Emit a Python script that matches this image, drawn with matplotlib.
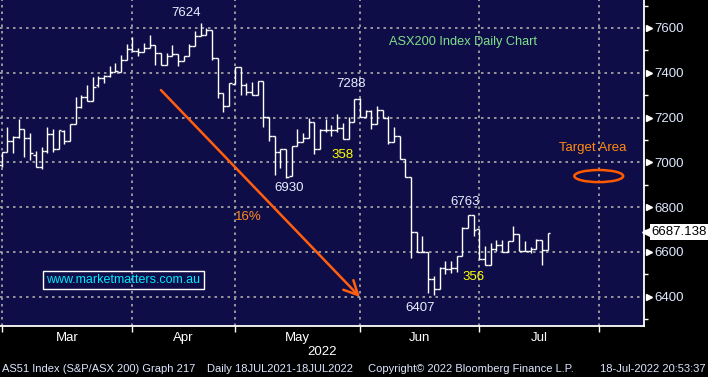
import matplotlib
matplotlib.use("Agg")
import matplotlib.pyplot as plt
import numpy as np
from matplotlib.collections import LineCollection
from matplotlib.patches import Ellipse

plt.rcParams['font.family'] = ['Liberation Sans', 'DejaVu Sans']

# daily OHLC, 1 Mar 2022 - 18 Jul 2022
opens = [6988, 7047, 7095, 7113, 7148, 7110, 7033, 6981, 7050, 7129, 7059, 7142, 7095, 7173, 7247, 7292,
         7273, 7344, 7376, 7385, 7403, 7403, 7459,
         7505, 7497, 7494, 7509, 7524, 7489, 7436, 7474, 7483, 7452, 7474, 7520, 7565, 7570, 7592, 7468,
         7308, 7252,
         7351, 7425, 7344, 7314, 7299, 7363, 7203, 7119, 7047, 7059, 6941, 7074, 7092, 7107, 7181, 7059,
         7144, 7144, 7144, 7154, 7104, 7181,
         7281, 7203, 7228, 7170, 7232, 7200, 7092, 7117, 7015, 6933, 6689, 6602, 6599, 6478, 6437, 6530,
         6525, 6530, 6580, 6706, 6763,
         6702, 6569, 6544, 6615, 6630, 6599, 6650, 6682, 6606, 6606, 6613, 6653, 6609]
highs = [7047, 7159, 7119, 7193, 7148, 7133, 7050, 7070, 7159, 7148, 7144, 7144, 7173, 7292, 7302, 7344,
         7381, 7385, 7391, 7430, 7444, 7479, 7529,
         7558, 7512, 7535, 7570, 7524, 7489, 7489, 7524, 7483, 7474, 7529, 7585, 7624, 7600, 7592, 7468,
         7308, 7353,
         7425, 7425, 7356, 7359, 7363, 7363, 7203, 7119, 7059, 7059, 7074, 7148, 7132, 7196, 7181, 7151,
         7193, 7169, 7218, 7178, 7203, 7281,
         7288, 7232, 7232, 7250, 7232, 7206, 7159, 7117, 7015, 6933, 6689, 6672, 6599, 6493, 6535, 6562,
         6559, 6584, 6712, 6763, 6763,
         6702, 6628, 6640, 6655, 6653, 6650, 6716, 6682, 6650, 6621, 6657, 6653, 6687]
lows = [6981, 7047, 7040, 7110, 7025, 7010, 6981, 6970, 7044, 7047, 7059, 7080, 7095, 7173, 7243, 7273,
        7273, 7336, 7356, 7380, 7403, 7403, 7459,
        7497, 7476, 7494, 7509, 7436, 7436, 7436, 7474, 7430, 7452, 7474, 7520, 7565, 7570, 7456, 7286,
        7226, 7252,
        7351, 7302, 7299, 7299, 7299, 7159, 7095, 6944, 6976, 6930, 6941, 7074, 7092, 7107, 7036, 7059,
        7136, 7119, 7136, 7104, 7104, 7181,
        7203, 7203, 7151, 7170, 7196, 7082, 7092, 7015, 6933, 6571, 6599, 6599, 6418, 6407, 6437, 6500,
        6506, 6510, 6580, 6706, 6670,
        6569, 6544, 6544, 6603, 6599, 6599, 6650, 6603, 6603, 6594, 6613, 6540, 6609]
closes = [7047, 7095, 7113, 7148, 7110, 7040, 6981, 7050, 7129, 7059, 7144, 7095, 7173, 7247, 7292, 7273,
          7336, 7376, 7385, 7403, 7408, 7459, 7505,
          7497, 7494, 7509, 7524, 7489, 7436, 7474, 7482, 7452, 7474, 7520, 7565, 7570, 7592, 7468, 7308,
          7252, 7353,
          7425, 7344, 7314, 7299, 7363, 7203, 7119, 7047, 7059, 6936, 7074, 7092, 7107, 7181, 7059, 7144,
          7144, 7144, 7154, 7104, 7181, 7281,
          7203, 7228, 7170, 7232, 7200, 7092, 7117, 7015, 6933, 6689, 6602, 6599, 6478, 6437, 6530, 6525,
          6530, 6580, 6706, 6763, 6700,
          6569, 6544, 6615, 6630, 6599, 6650, 6682, 6606, 6606, 6613, 6653, 6609, 6687]

months = ['Mar', 'Apr', 'May', 'Jun', 'Jul']
month_starts = [0, 23, 41, 63, 84, 105]   # bar index of each month's first day
price_ticks = [6400, 6600, 6800, 7000, 7200, 7400, 7600]
last_price = 6687.138

fig = plt.figure(figsize=(7.08, 3.77), dpi=100, facecolor='black')
ax = fig.add_axes([0, 1 - 326 / 377, 644 / 708, 326 / 377])
ax.set_facecolor('#0f0d48')
ax.set_xlim(-0.3, 112.96)
ax.set_ylim(6269.6, 7725)

# ohlc bars
segs = []
for i in range(len(opens)):
    segs.append([(i, lows[i]), (i, highs[i])])
    segs.append([(i - 0.5, opens[i]), (i, opens[i])])
    segs.append([(i, closes[i]), (i + 0.5, closes[i])])
ax.add_collection(LineCollection(segs, colors='white', linewidths=1.0, zorder=3))

# axes / grid
for s in ['top', 'left']:
    ax.spines[s].set_visible(False)
for s in ['right', 'bottom']:
    ax.spines[s].set_color('white')
    ax.spines[s].set_linewidth(1.3)

ax.yaxis.tick_right()
ax.set_yticks(price_ticks)
ax.set_yticklabels([str(p) for p in price_ticks])
ax.set_yticks(np.arange(6300, 7800, 200), minor=True)
ax.tick_params(axis='y', which='major', length=0, pad=7.5, labelsize=9.5, labelcolor='#dfe8ff')
ax.tick_params(axis='y', which='minor', length=3, width=1, color='white', direction='out')
ax.plot([1.008] * len(price_ticks), price_ticks, marker='>', ls='none', color='white', ms=5,
        transform=ax.get_yaxis_transform(), clip_on=False)

ax.set_xticks(month_starts)
ax.set_xticklabels([])
centers = [(month_starts[i] + month_starts[i + 1]) / 2 for i in range(len(months))]
ax.set_xticks(centers, minor=True)
ax.set_xticklabels(months, minor=True)
ax.tick_params(axis='x', which='major', length=4, width=1, color='white', direction='out')
ax.tick_params(axis='x', which='minor', length=0, pad=4, labelsize=9.5, labelcolor='white')

ax.grid(which='major', color='#a0a0a0', linestyle=(0, (1.4, 2.2)), linewidth=1.3)
ax.set_axisbelow(True)

# last price flag
ax.plot([1.005], [last_price], marker='<', ms=7, color='white', transform=ax.get_yaxis_transform(),
        clip_on=False)
ax.text(1.012, last_price, '6687.138', transform=ax.get_yaxis_transform(), ha='left', va='center',
        fontsize=9.5, color='black', bbox=dict(boxstyle='square,pad=0.15', fc='white', ec='none'))

# annotations
lab = '#e8eeff'
ax.text(32.4, 7667, '7624', color=lab, fontsize=9.5, ha='center', va='center')
ax.text(61.4, 7350, '7288', color=lab, fontsize=9.5, ha='center', va='center')
ax.text(50.5, 6886, '6930', color=lab, fontsize=9.5, ha='center', va='center')
ax.text(59.9, 7033, '358', color='#ffff00', fontsize=9.5, ha='center', va='center')
ax.text(81.5, 6825, '6763', color=lab, fontsize=9.5, ha='center', va='center')
ax.text(83.0, 6488, '356', color='#ffff00', fontsize=9.5, ha='center', va='center')
ax.text(73.5, 6351, '6407', color=lab, fontsize=9.5, ha='center', va='center')
ax.text(43.4, 6755, '16%', color='#ff8a20', fontsize=9.5, ha='center', va='center')
ax.text(68.1, 7536, 'ASX200 Index Daily Chart', color='#7ee08a', fontsize=9.2, ha='left', va='center')
ax.text(103.9, 7063, 'Target Area', color='#ff8a10', fontsize=9.5, ha='center', va='center')
ax.add_patch(Ellipse((105.0, 6939), width=8.6, height=54, fill=False, ec='#ff5a00', lw=1.8, zorder=4))
ax.annotate('', xy=(63.0, 6399), xytext=(28.0, 7323),
            arrowprops=dict(arrowstyle='->,head_length=1.0,head_width=0.5', color='#ff5f0f', lw=1.8,
                            shrinkA=0, shrinkB=0))
ax.text(21.4, 6475, 'www.marketmatters.com.au', color='#00e8ff', fontsize=9, ha='center', va='center',
        bbox=dict(boxstyle='square,pad=0.25', fc='none', ec='white', lw=1))

# footer
fig.text(322 / 708, 1 - 352 / 377, '2022', color='white', fontsize=9.5, ha='center', va='center')
foot = '#dde6ff'
fy = 1 - 369 / 377
fig.text(2 / 708, fy, 'AS51 Index (S&P/ASX 200) Graph 217', color=foot, fontsize=8, va='center')
fig.text(207 / 708, fy, 'Daily 18JUL2021-18JUL2022', color=foot, fontsize=8, va='center')
fig.text(368 / 708, fy, 'Copyright\u00a9 2022 Bloomberg Finance L.P.', color=foot, fontsize=8, va='center')
fig.text(706 / 708, fy, '18-Jul-2022 20:53:37', color=foot, fontsize=8, va='center', ha='right')

fig.savefig('out.png', dpi=100, facecolor='black')
